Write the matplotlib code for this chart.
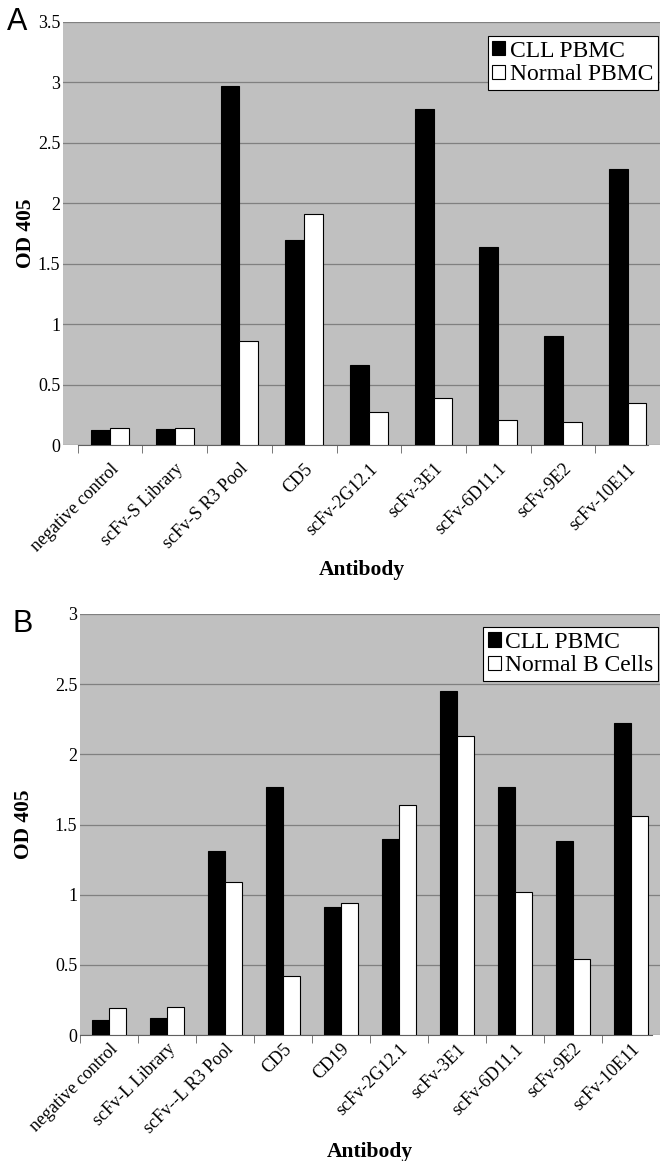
import matplotlib
matplotlib.use("Agg")
import matplotlib.pyplot as plt
import matplotlib.transforms as mtransforms
import numpy as np

# Panel A data
labels_a = ['negative control', 'scFv-S Library', 'scFv-S R3 Pool', 'CD5',
            'scFv-2G12.1', 'scFv-3E1', 'scFv-6D11.1', 'scFv-9E2', 'scFv-10E11']
cll_a = [0.12, 0.13, 2.97, 1.70, 0.66, 2.78, 1.64, 0.90, 2.28]
normal_a = [0.14, 0.14, 0.86, 1.91, 0.27, 0.39, 0.21, 0.19, 0.35]

# Panel B data
labels_b = ['negative control', 'scFv-L Library', 'scFv--L R3 Pool', 'CD5', 'CD19',
            'scFv-2G12.1', 'scFv-3E1', 'scFv-6D11.1', 'scFv-9E2', 'scFv-10E11']
cll_b = [0.11, 0.12, 1.31, 1.77, 0.91, 1.40, 2.45, 1.77, 1.38, 2.22]
normal_b = [0.19, 0.20, 1.09, 0.42, 0.94, 1.64, 2.13, 1.02, 0.54, 1.56]

serif = ['Liberation Serif', 'DejaVu Serif']
plt.rcParams['font.family'] = serif

fig = plt.figure(figsize=(6.6, 11.61), dpi=100)


def panel(rect, labels, cll, normal, normal_name, ymax, xl, xr, letter, letter_pos,
          leg_top, xpad, ylpad):
    ax = fig.add_axes(rect)
    x = np.arange(len(labels))
    w = 0.29
    ax.set_facecolor('#c0c0c0')
    ax.bar(x - w / 2, cll, w, color='black', edgecolor='black', linewidth=0.8,
           label='CLL PBMC', zorder=3)
    ax.bar(x + w / 2, normal, w, color='white', edgecolor='black', linewidth=0.8,
           label=normal_name, zorder=3)
    ax.set_xlim(xl, xr)
    ax.set_ylim(0, ymax)
    yt = np.arange(0, ymax + 0.01, 0.5)
    ax.set_yticks(yt)
    ax.set_yticklabels(['%g' % v for v in yt])
    ax.grid(axis='y', color='#808080', linewidth=0.9, zorder=1)
    for s in ['left', 'right', 'top']:
        ax.spines[s].set_visible(False)
    ax.spines['bottom'].set_color('#606060')
    ax.spines['bottom'].set_bounds(-0.5, xr)
    ax.tick_params(axis='y', length=0, pad=2, labelsize=13)
    ax.set_xticks(x)
    ax.set_xticklabels(labels, rotation=45, ha='right', rotation_mode='anchor',
                       fontsize=13)
    shift = mtransforms.ScaledTranslation(-8 / 100, 0, fig.dpi_scale_trans)
    for t in ax.get_xticklabels():
        t.set_transform(t.get_transform() + shift)
    ax.set_xticks(np.arange(-0.5, len(labels)), minor=True)
    ax.tick_params(axis='x', which='major', length=0, pad=xpad)
    ax.tick_params(axis='x', which='minor', length=6, color='#606060', direction='out')
    ax.set_xlabel('Antibody', fontsize=15.5, fontweight='bold', labelpad=4)
    ax.set_ylabel('OD 405', fontsize=15.5, fontweight='bold', labelpad=ylpad)
    leg = ax.legend(loc='upper right', bbox_to_anchor=(0.997, leg_top), fontsize=17,
                    handlelength=0.55, handleheight=0.55, handletextpad=0.2,
                    borderpad=0.2, labelspacing=0.1, fancybox=False,
                    framealpha=1, edgecolor='black', borderaxespad=0)
    leg.get_frame().set_linewidth(0.8)
    fig.text(letter_pos[0], letter_pos[1], letter, fontsize=22,
             family=['Liberation Sans', 'DejaVu Sans'], va='top', ha='left')
    return ax


panel([63 / 660, 716 / 1161, 597 / 660, 423 / 1161], labels_a, cll_a, normal_a,
      'Normal PBMC', 3.5, -0.5 - 15 / 66, 8.5 - 12 / 66, 'A', (7 / 660, 1 - 7 / 1161),
      0.967, 11, 1)
panel([80 / 660, 126 / 1161, 580 / 660, 421 / 1161], labels_b, cll_b, normal_b,
      'Normal B Cells', 3.0, -0.5, 9.5 - 8 / 58.8, 'B', (13 / 660, 1 - 609 / 1161),
      0.969, 4, 15)

fig.savefig('out.png', dpi=100)
